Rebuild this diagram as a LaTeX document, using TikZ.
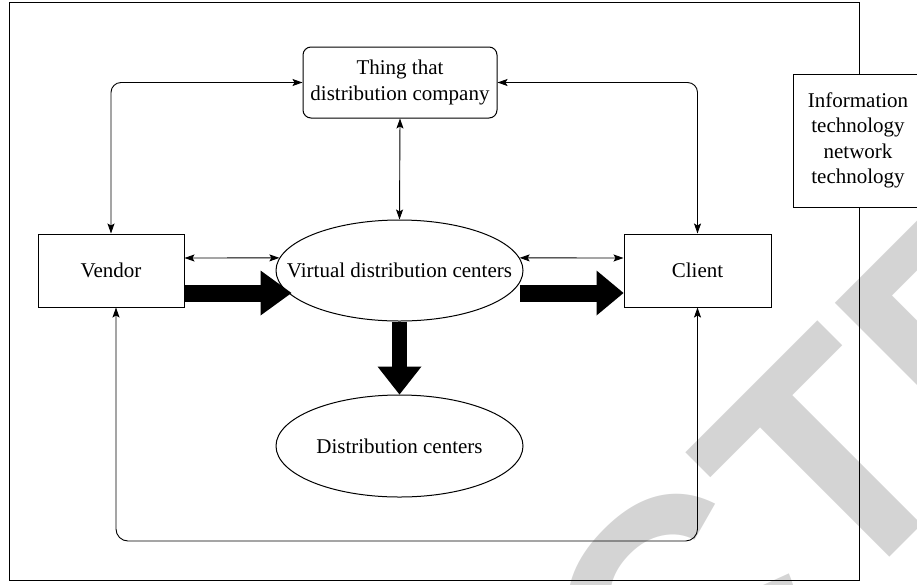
\documentclass[tikz,border=0pt]{standalone}
\usepackage{fontspec}
\setmainfont{Liberation Serif}
\newfontfamily\wmfont{Liberation Sans}
\usetikzlibrary{arrows.meta,shapes.geometric,calc}
\definecolor{wmgray}{RGB}{212,212,212}
\tikzset{
  lbl/.style={font=\fontsize{21}{25.5}\selectfont, align=center, inner sep=0pt},
  boxnode/.style={lbl, draw, line width=1pt, rectangle},
  ellnode/.style={lbl, draw, line width=1pt, ellipse},
  link/.style={line width=0.9pt, {Stealth[length=10pt,width=7pt,inset=2pt]}-{Stealth[length=10pt,width=7pt,inset=2pt]}},
  bigarrow/.style n args={3}{line width=#1, -{Triangle[length=#2,width=#3,line width=0pt]}},
  wm/.style={font=\wmfont\bfseries\fontsize{317}{317}\selectfont, text=wmgray, inner sep=0pt, rotate=45}
}
\begin{document}
\begin{tikzpicture}[x=1pt,y=-1pt]
\useasboundingbox (0,0) rectangle (917,584);
\clip (0,0) rectangle (917,584);
% watermark
\node[wm, anchor=base west] (wmb) at (837.5,609.5) {TED};
\node[wm, anchor=base east] (wma) at (837.5,609.5) {RETRAC};
% frame
\draw[line width=1pt] (9,2) rectangle (859,580);
% nodes
\node[boxnode, fill=white, minimum width=130pt, minimum height=133pt] (info) at (858,140.5) {Information\\technology\\network\\technology};
\node[boxnode, rounded corners=8pt, minimum width=194pt, minimum height=71pt] (thing) at (400,82.5) {Thing that\\distribution company};
\node[boxnode, minimum width=146pt, minimum height=73pt] (vendor) at (111,270.5) {Vendor};
\node[boxnode, minimum width=147pt, minimum height=73pt] (client) at (697.5,270.5) {Client};
\node[ellnode, minimum width=247pt, minimum height=101pt] (virtual) at (399.5,270.5) {\makebox[0pt]{Virtual distribution centers}};
\node[ellnode, minimum width=247pt, minimum height=102pt] (dist) at (399.5,446) {\makebox[0pt]{Distribution centers}};
\coordinate (loopy) at (0,541);
% thin connectors
\draw[link, rounded corners=10pt] (thing.west) -| (vendor.north);
\draw[link, rounded corners=10pt] (thing.east) -| (client.north);
\draw[link] (thing.south) -- (virtual.north);
\draw[link] ([yshift=12.5pt]vendor.east) -- (virtual.174);
\draw[link] (virtual.6) -- ([yshift=12.5pt]client.west);
\draw[link, rounded corners=12pt] ([xshift=5pt]vendor.south) |- (loopy -| client.south) -- (client.south);
% thick arrows
\draw[bigarrow={17pt}{31pt}{45pt}] ([yshift=-22.5pt]vendor.east) -- ([yshift=-22.5pt,xshift=16pt]virtual.west);
\draw[bigarrow={17pt}{27pt}{45pt}] ([yshift=-22.5pt,xshift=-4pt]virtual.east) -- ([yshift=-22.5pt]client.west);
\draw[bigarrow={15pt}{28pt}{44pt}] (virtual.south) -- (dist.north);
\end{tikzpicture}
\end{document}
